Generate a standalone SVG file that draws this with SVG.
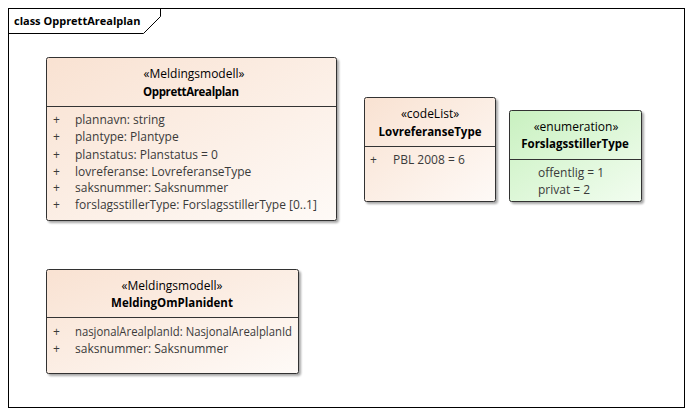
<svg xmlns="http://www.w3.org/2000/svg" width="692" height="415" viewBox="0 0 692 415">
<defs>
<linearGradient id="peach" x1="0" y1="0" x2="1" y2="1">
<stop offset="0" stop-color="#f9e2d2"/>
<stop offset="1" stop-color="#fefaf7"/>
</linearGradient>
<linearGradient id="green" x1="0" y1="0" x2="1" y2="1">
<stop offset="0" stop-color="#c9f1c0"/>
<stop offset="1" stop-color="#f2fdf0"/>
</linearGradient>
<filter id="sh" x="-10%" y="-10%" width="130%" height="130%">
<feGaussianBlur in="SourceAlpha" stdDeviation="1.2"/>
<feOffset dx="2" dy="2" result="b"/>
<feComponentTransfer><feFuncA type="linear" slope="0.35"/></feComponentTransfer>
<feMerge><feMergeNode/><feMergeNode in="SourceGraphic"/></feMerge>
</filter>
</defs>
<style>
text{font-family:"Segoe UI","Open Sans","Liberation Sans",sans-serif;font-size:12px;fill:#000}
.st{text-anchor:middle}
.nm{text-anchor:middle;font-weight:bold;font-size:11.5px}
.at{fill:#3a3a3a}
.box{stroke:#333;stroke-width:1}
.sep{stroke:#333;stroke-width:1}
.frame{fill:none;stroke:#000;stroke-width:1}
</style>
<rect width="692" height="415" fill="#fff"/>
<g id="frame">
<rect class="frame" x="8.5" y="8.5" width="676" height="399"/>
<path class="frame" d="M8.5 33.5 H143.5 L160.5 16.5 V8.5"/>
<text x="14" y="25" style="font-weight:bold;font-size:11px">class OpprettArealplan</text>
</g>
<g id="connectors"></g>
<g id="OpprettArealplan">
<rect class="box" x="46.5" y="57.5" width="290" height="163" rx="2" fill="url(#peach)" filter="url(#sh)"/>
<line class="sep" x1="46.5" y1="106.5" x2="336.5" y2="106.5"/>
<text class="st" x="194" y="78">«Meldingsmodell»</text>
<text class="nm" x="191" y="96" textLength="96">OpprettArealplan</text>
<text class="at" x="53" y="124">+</text><text class="at" x="75" y="124">plannavn: string</text>
<text class="at" x="53" y="141">+</text><text class="at" x="75" y="141">plantype: Plantype</text>
<text class="at" x="53" y="159">+</text><text class="at" x="75" y="159">planstatus: Planstatus = 0</text>
<text class="at" x="53" y="176">+</text><text class="at" x="75" y="176">lovreferanse: LovreferanseType</text>
<text class="at" x="53" y="192">+</text><text class="at" x="75" y="192">saksnummer: Saksnummer</text>
<text class="at" x="53" y="209">+</text><text class="at" x="75" y="209">forslagsstillerType: ForslagsstillerType [0..1]</text>
</g>
<g id="LovreferanseType">
<rect class="box" x="364.5" y="97.5" width="131" height="104" rx="2" fill="url(#peach)" filter="url(#sh)"/>
<line class="sep" x1="364.5" y1="146.5" x2="495.5" y2="146.5"/>
<text class="st" x="430" y="118">«codeList»</text>
<text class="nm" x="430" y="136">LovreferanseType</text>
<text class="at" x="370" y="164">+</text><text class="at" x="393" y="164">PBL 2008 = 6</text>
</g>
<g id="ForslagsstillerType">
<rect class="box" x="509.5" y="110.5" width="132" height="91" rx="2" fill="url(#green)" filter="url(#sh)"/>
<line class="sep" x1="509.5" y1="159.5" x2="641.5" y2="159.5"/>
<text class="st" x="576" y="131">«enumeration»</text>
<text class="nm" x="575" y="148">ForslagsstillerType</text>
<text class="at" x="538" y="177">offentlig = 1</text>
<text class="at" x="538" y="194">privat = 2</text>
</g>
<g id="MeldingOmPlanident">
<rect class="box" x="46.5" y="269.5" width="252" height="104" rx="2" fill="url(#peach)" filter="url(#sh)"/>
<line class="sep" x1="46.5" y1="317.5" x2="298.5" y2="317.5"/>
<text class="st" x="172" y="290">«Meldingsmodell»</text>
<text class="nm" x="172" y="307">MeldingOmPlanident</text>
<text class="at" x="53" y="336">+</text><text class="at" x="75" y="336" textLength="217" lengthAdjust="spacingAndGlyphs">nasjonalArealplanId: NasjonalArealplanId</text>
<text class="at" x="53" y="353">+</text><text class="at" x="75" y="353">saksnummer: Saksnummer</text>
</g>
</svg>
